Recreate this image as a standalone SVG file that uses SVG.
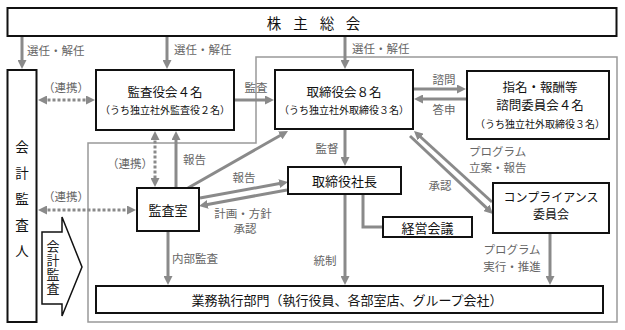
<svg xmlns="http://www.w3.org/2000/svg" width="625" height="330" viewBox="0 0 625 330">
<defs>
<style>
.box{fill:#fff;stroke:#111;stroke-width:2}
.frame{fill:none;stroke:#999;stroke-width:1.5}
.c{fill:none;stroke:#8a8a8a;stroke-width:3}
.arr{marker-end:url(#ah)}
.dbl{marker-start:url(#ah);marker-end:url(#ah);stroke-dasharray:3 2}
.t{font-family:"Noto Sans CJK JP","Noto Sans",sans-serif;fill:#111;text-anchor:middle;dominant-baseline:central}
.l{font-family:"Noto Sans CJK JP","Noto Sans",sans-serif;fill:#666;font-size:11.5px;dominant-baseline:central}
.m{text-anchor:middle}
.f13{font-size:13px}
.f125{font-size:12.5px}
.f10{font-size:10px}
</style>
<marker id="ah" viewBox="0 0 10 10" refX="5" refY="5" markerWidth="9" markerHeight="9" markerUnits="userSpaceOnUse" orient="auto-start-reverse">
<path d="M0,0 L10,5 L0,10 z" fill="#8a8a8a"/>
</marker>
</defs>
<rect width="625" height="330" fill="#fff"/>
<path class="frame" d="M256,57 H617 V322 H88 V143 H256 Z"/>

<g id="connectors">
<line class="c arr" x1="22" y1="37" x2="22" y2="64.5"/>
<line class="c arr" x1="167" y1="37" x2="167" y2="64.5"/>
<line class="c arr" x1="345" y1="37" x2="345" y2="64.5"/>
<line class="c arr" x1="235" y1="100" x2="269.5" y2="100"/>
<line class="c arr" x1="414" y1="89" x2="461.5" y2="89"/>
<line class="c arr" x1="466" y1="99" x2="418.5" y2="99"/>
<line class="c arr" x1="345" y1="130" x2="345" y2="161.5"/>
<line class="c arr" x1="345" y1="195" x2="345" y2="280.5"/>
<line class="c arr" x1="168" y1="232" x2="168" y2="280.5"/>
<line class="c arr" x1="550" y1="234" x2="550" y2="280.5"/>
<line class="c arr" x1="176" y1="187" x2="176" y2="135.5"/>
<line class="c dbl" x1="155" y1="135.5" x2="155" y2="182.5"/>
<line class="c dbl" x1="42.5" y1="100" x2="90.5" y2="100"/>
<line class="c dbl" x1="42.5" y1="210" x2="131.5" y2="210"/>
<line class="c arr" x1="188" y1="188" x2="284.1" y2="133.2"/>
<line class="c arr" x1="200" y1="198" x2="283.6" y2="182.8"/>
<line class="c arr" x1="287" y1="190" x2="203.4" y2="205.2"/>
<line class="c arr" x1="492" y1="202" x2="417.3" y2="134"/>
<line class="c arr" x1="410" y1="136" x2="489.7" y2="210.9"/>
<path class="c" d="M363,195 V227 H382"/>
</g>

<g id="labels">
<text class="l" x="27" y="50">選任・解任</text>
<text class="l" x="174" y="49">選任・解任</text>
<text class="l" x="352" y="48">選任・解任</text>
<text class="l m" x="66" y="87">（連携）</text>
<text class="l m" x="256" y="87">監査</text>
<text class="l m" x="444" y="79">諮問</text>
<text class="l m" x="444" y="109">答申</text>
<text class="l m" x="327" y="148">監督</text>
<text class="l" x="183" y="159">報告</text>
<text class="l m" x="130" y="163">（連携）</text>
<text class="l m" x="244" y="177">報告</text>
<text class="l m" x="66" y="196">（連携）</text>
<text class="l m" x="243" y="213">計画・方針</text>
<text class="l m" x="245" y="228">承認</text>
<text class="l m" x="440" y="185">承認</text>
<text class="l" x="469" y="151">プログラム</text>
<text class="l" x="469" y="167">立案・報告</text>
<text class="l" x="172" y="258">内部監査</text>
<text class="l m" x="325" y="260">統制</text>
<text class="l m" x="512" y="249">プログラム</text>
<text class="l m" x="512" y="266">実行・推進</text>
</g>

<g id="shareholders">
<rect class="box" x="7.5" y="8" width="609" height="28"/>
<text class="t" style="font-size:14.5px" x="274 300.5 327 353" y="22">株主総会</text>
</g>
<g id="accounting-auditor">
<rect class="box" x="7.5" y="70" width="29" height="252"/>
<text class="t" style="font-size:13.5px" x="22 22 22 22 22" y="146 172 198 224 250">会計監査人</text>
</g>
<g id="accounting-audit-arrow">
<path d="M42,232 H62 V217 L82,267 L62,316 V304 H42 Z" fill="#fff" stroke="#111" stroke-width="1.5"/>
<text class="t" style="font-size:13px;fill:#222" x="53 53 53 53" y="245 259 273 287">会計監査</text>
</g>
<g id="audit-board">
<rect class="box" x="96" y="70" width="138" height="60"/>
<text class="t f125" x="165" y="91">監査役会４名</text>
<text class="t f10" x="165" y="109">（うち独立社外監査役２名）</text>
</g>
<g id="board">
<rect class="box" x="275" y="70" width="138" height="59"/>
<text class="t f125" x="344" y="91">取締役会８名</text>
<text class="t f10" x="344" y="109">（うち独立社外取締役３名）</text>
</g>
<g id="nomination-committee">
<rect class="box" x="467" y="71" width="142" height="68"/>
<text class="t f125" x="540" y="86">指名・報酬等</text>
<text class="t f125" x="540" y="104.5">諮問委員会４名</text>
<text class="t f10" x="540" y="123.5">（うち独立社外取締役３名）</text>
</g>
<g id="audit-office">
<rect class="box" x="137" y="188" width="62" height="43"/>
<text class="t f13" x="168" y="209.5">監査室</text>
</g>
<g id="president">
<rect class="box" x="288" y="167" width="113" height="27"/>
<text class="t f13" x="344.5" y="180.5">取締役社長</text>
</g>
<g id="management-meeting">
<rect class="box" x="383" y="217" width="89" height="20"/>
<text class="t f13" x="427.5" y="227">経営会議</text>
</g>
<g id="compliance-committee">
<rect class="box" x="493" y="183" width="116" height="50"/>
<text class="t" style="font-size:12px" x="551" y="196">コンプライアンス</text>
<text class="t" style="font-size:12px" x="551" y="213">委員会</text>
</g>
<g id="business-division">
<rect class="box" x="96" y="286" width="507" height="27"/>
<text class="t f13" x="347" y="299.5">業務執行部門（執行役員、各部室店、グループ会社）</text>
</g>
</svg>
